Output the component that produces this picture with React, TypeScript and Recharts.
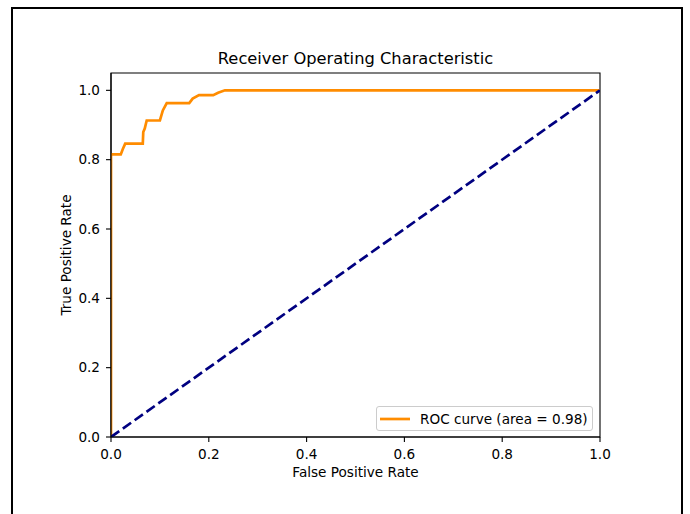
import React from "react";
import {
  LineChart,
  Line,
  XAxis,
  YAxis,
  ReferenceArea,
  Legend,
} from "recharts";

// ROC curve points (false positive rate / true positive rate)
const fprValues = [0, 0, 0.02, 0.024, 0.029, 0.065, 0.066, 0.069, 0.073, 0.1, 0.106, 0.114, 0.16, 0.167, 0.18, 0.209, 0.219, 0.233, 1.0];
const tprValues = [0, 0.815, 0.815, 0.83, 0.846, 0.846, 0.88, 0.89, 0.913, 0.913, 0.942, 0.963, 0.963, 0.976, 0.986, 0.986, 0.993, 1.0, 1.0];

// chance line
const chanceFpr = [0, 1];
const chanceTpr = [0, 1];

const xTicks = [0, 0.2, 0.4, 0.6, 0.8, 1.0];
const yTicks = [0, 0.2, 0.4, 0.6, 0.8, 1.0];

const rocData = fprValues.map((f, i) => ({ fpr: f, tpr: tprValues[i] }));
const chanceData = chanceFpr.map((f, i) => ({ fpr: f, tpr: chanceTpr[i] }));

const FONT = "'DejaVu Sans', sans-serif";
const fmt = (v: number) => v.toFixed(1);

const LegendBox = () => (
  <div
    style={{
      boxSizing: "border-box",
      width: 217,
      height: 25,
      border: "1px solid #cccccc",
      borderRadius: 3,
      background: "rgba(255,255,255,0.8)",
      display: "flex",
      alignItems: "center",
      fontFamily: FONT,
      fontSize: 13.6,
      color: "#000",
    }}
  >
    <svg width={40} height={10} style={{ flex: "none" }}>
      <line x1={3} y1={5} x2={33} y2={5} stroke="#ff8c00" strokeWidth={2.7} />
    </svg>
    <span style={{ marginLeft: 3, whiteSpace: "nowrap" }}>ROC curve (area = 0.98)</span>
  </div>
);

export default function App() {
  return (
    <div
      style={{
        position: "absolute",
        left: 0,
        top: 0,
        width: 690,
        height: 514,
        overflow: "hidden",
        background: "#fff",
        fontFamily: FONT,
      }}
    >
      <div
        style={{
          position: "absolute",
          left: 11,
          top: 7,
          width: 672,
          height: 560,
          boxSizing: "border-box",
          border: "2px solid #000",
        }}
      />
      <div
        style={{
          position: "absolute",
          left: 111,
          top: 49,
          width: 489,
          textAlign: "center",
          fontSize: 16.3,
          lineHeight: "19px",
          color: "#000",
        }}
      >
        Receiver Operating Characteristic
      </div>
      <div style={{ position: "absolute", left: 0, top: 0 }}>
        <LineChart
          width={690}
          height={514}
          margin={{ top: 73, right: 90, bottom: 32, left: 51 }}
        >
          <ReferenceArea
            x1={0}
            x2={1}
            y1={0}
            y2={1.05}
            fill="none"
            stroke="#000"
            strokeWidth={1.1}
          />
          <XAxis
            dataKey="fpr"
            type="number"
            domain={[0, 1]}
            ticks={xTicks}
            interval={0}
            allowDataOverflow
            tickFormatter={fmt}
            height={45}
            tickSize={5}
            tickMargin={7}
            axisLine={{ stroke: "#000", strokeWidth: 1.1 }}
            tickLine={{ stroke: "#000", strokeWidth: 1.1 }}
            tick={{ fill: "#000", fontSize: 13.6, fontFamily: FONT }}
            label={{
              value: "False Positive Rate",
              position: "insideBottom",
              offset: 5,
              fill: "#000",
              fontSize: 13.6,
              fontFamily: FONT,
            }}
          />
          <YAxis
            type="number"
            domain={[0, 1.05]}
            ticks={yTicks}
            interval={0}
            allowDataOverflow
            tickFormatter={fmt}
            width={60}
            tickSize={5}
            tickMargin={6}
            axisLine={{ stroke: "#000", strokeWidth: 1.1 }}
            tickLine={{ stroke: "#000", strokeWidth: 1.1 }}
            tick={{ fill: "#000", fontSize: 13.6, fontFamily: FONT }}
            label={{
              value: "True Positive Rate",
              angle: -90,
              position: "insideLeft",
              offset: 15,
              fill: "#000",
              fontSize: 13.6,
              fontFamily: FONT,
              style: { textAnchor: "middle" },
            }}
          />
          <Line
            data={rocData}
            dataKey="tpr"
            type="linear"
            stroke="#ff8c00"
            strokeWidth={2.7}
            dot={false}
            activeDot={false}
            isAnimationActive={false}
            name="ROC curve (area = 0.98)"
          />
          <Line
            data={chanceData}
            dataKey="tpr"
            type="linear"
            stroke="#000080"
            strokeWidth={2.7}
            strokeDasharray="10.1 4.4"
            dot={false}
            activeDot={false}
            legendType="none"
            isAnimationActive={false}
          />
          <Legend
            layout="vertical"
            align="center"
            verticalAlign="middle"
            wrapperStyle={{ left: 376, top: 406, width: 217, height: 25 }}
            content={() => <LegendBox />}
          />
        </LineChart>
      </div>
    </div>
  );
}
